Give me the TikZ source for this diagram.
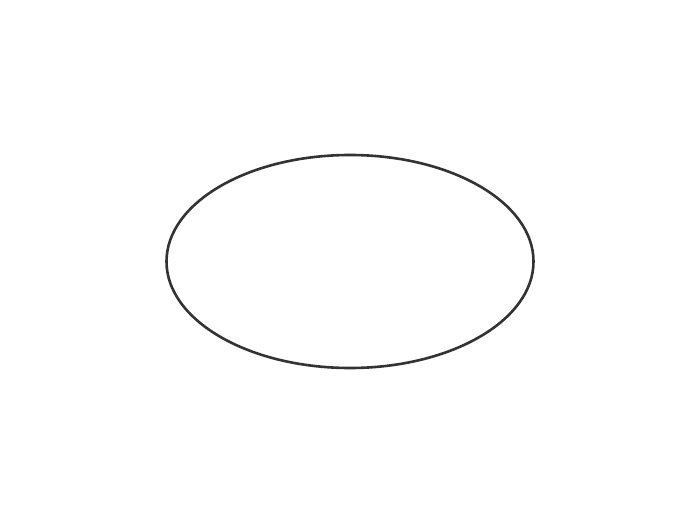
\documentclass[tikz,border=0pt]{standalone}
\usepackage{tikz}

\begin{document}
\begin{tikzpicture}[x=1pt, y=1pt, outline/.style={draw=black!80, line width=2.6pt}]
			% Canvas
			\useasboundingbox (0,0) rectangle (700,525);

			% Ellipse
			\draw[outline] (350,263.5) ellipse (183.5 and 106.5);
		\end{tikzpicture}
\end{document}
